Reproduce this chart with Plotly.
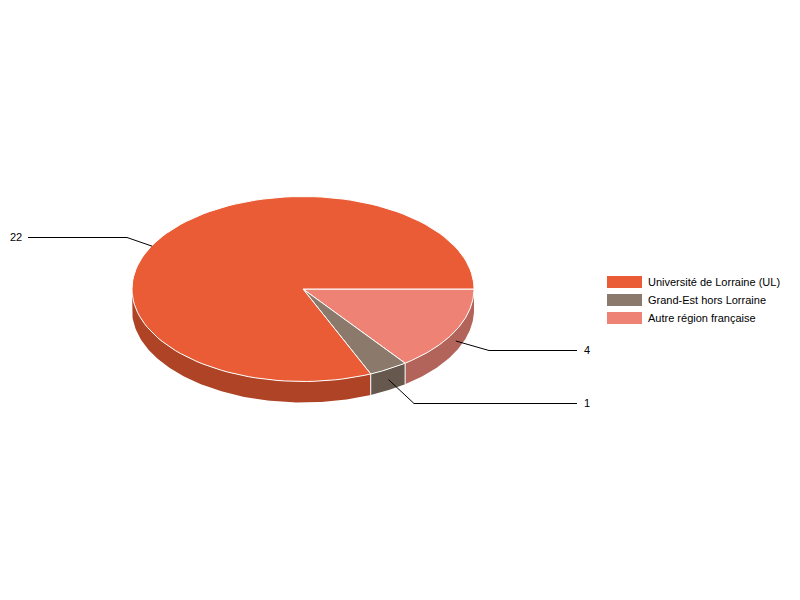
import numpy as np
import plotly.graph_objects as go

# slices in drawing order, clockwise from east
categories = ["Autre région française", "Grand-Est hors Lorraine", "Université de Lorraine (UL)"]
values = [4, 1, 22]
top_colors = ["#EE8274", "#8B7A6C", "#E95C36"]
wall_colors = ["#B3645A", "#66584D", "#AE4326"]

legend_order = [2, 1, 0]

# pie geometry in page pixels
cx, cy = 303, 289
rx, ry = 171, 92.5
depth = 21

# leader line: anchor nudge from the slice middle, then bend and end points
leader_nudge = [(0, 10.5), (0, 10.5), (-8, 8)]
leader_bend = [(489, 350.5), (414, 403.5), (127, 237.5)]
leader_end = [(577, 350.5), (577, 403.5), (28, 237.5)]
label_pos = [(582, 350), (582, 403), (24, 237)]
label_anchor = ["left", "left", "right"]


def rim(a0, a1):
    t = np.radians(np.linspace(a0, a1, 120))
    return cx + rx * np.cos(t), cy + ry * np.sin(t)


fig = go.Figure()

angles = np.concatenate([[0], np.cumsum(values) / sum(values) * 360])

# side walls, only the front half of the pie shows
for i in range(len(values)):
    a0, a1 = angles[i], min(angles[i + 1], 180)
    if a0 >= 180:
        continue
    x, y = rim(a0, a1)
    fig.add_trace(go.Scatter(
        x=np.concatenate([x, x[::-1]]),
        y=np.concatenate([y, y[::-1] + depth]),
        mode="lines", fill="toself", fillcolor=wall_colors[i],
        line=dict(width=0, color=wall_colors[i]),
        hoverinfo="skip", showlegend=False))

# white edges between the walls
for a in angles[1:-1]:
    x, y = rim(a, a)
    fig.add_trace(go.Scatter(
        x=[x[0], x[0]], y=[y[0], y[0] + depth],
        mode="lines", line=dict(width=1, color="white"),
        hoverinfo="skip", showlegend=False))

# top of the pie
for i in range(len(values)):
    x, y = rim(angles[i], angles[i + 1])
    fig.add_trace(go.Scatter(
        x=np.concatenate([[cx], x, [cx]]),
        y=np.concatenate([[cy], y, [cy]]),
        mode="lines", fill="toself", fillcolor=top_colors[i],
        line=dict(width=1, color="white"),
        name=categories[i], hoverinfo="name", showlegend=False))

# leader lines and value labels
for i in range(len(values)):
    mid = np.radians((angles[i] + angles[i + 1]) / 2)
    ax = cx + rx * np.cos(mid) + leader_nudge[i][0]
    ay = cy + ry * np.sin(mid) + leader_nudge[i][1]
    fig.add_trace(go.Scatter(
        x=[ax, leader_bend[i][0], leader_end[i][0]],
        y=[ay, leader_bend[i][1], leader_end[i][1]],
        mode="lines", line=dict(width=1, color="black"),
        hoverinfo="skip", showlegend=False))
    fig.add_annotation(x=label_pos[i][0], y=label_pos[i][1], text=str(values[i]),
                       xanchor=label_anchor[i], yanchor="middle", showarrow=False,
                       font=dict(size=11, color="black"))

# legend on the right
for row, i in enumerate(legend_order):
    y = 282 + row * 18
    fig.add_shape(type="rect", x0=607, x1=642, y0=y - 6, y1=y + 6,
                  fillcolor=top_colors[i], line=dict(width=0), layer="above")
    fig.add_annotation(x=646, y=y, text=categories[i], xanchor="left", yanchor="middle",
                       showarrow=False, font=dict(size=11, color="black"))

fig.update_layout(
    width=800, height=600,
    margin=dict(l=0, r=0, t=0, b=0, pad=0),
    paper_bgcolor="white", plot_bgcolor="white",
    font=dict(family="Liberation Sans, Arial, sans-serif"),
    xaxis=dict(range=[0, 800], visible=False, fixedrange=True),
    yaxis=dict(range=[600, 0], visible=False, fixedrange=True),
    showlegend=False,
)

fig.write_html("out.html", post_script="document.body.style.margin='0';",
               config=dict(displayModeBar=False))
